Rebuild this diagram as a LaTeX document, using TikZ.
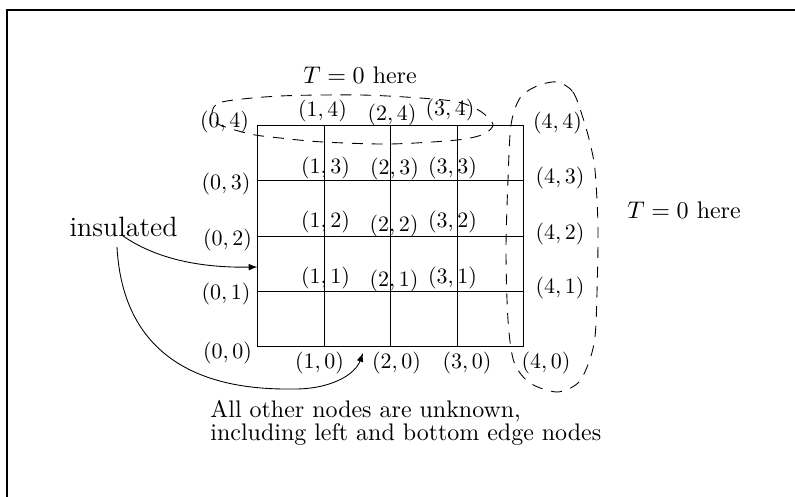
\documentclass[tikz,border=0pt]{standalone}
\begin{document}
\begin{tikzpicture}[x=0.455pt,y=-0.455pt,
  lbl/.style={inner sep=0pt},
  txt/.style={inner sep=0pt,font=\fontsize{10.9}{10.8}\selectfont},
  loop/.style={dash pattern=on 5pt off 4pt},
  arr/.style={-latex}]
\useasboundingbox (0,0) rectangle (795,497);
% frame
\coordinate (fbl) at (7,497);
\coordinate (ftl) at (7,10);
\coordinate (ftr) at (795,10);
\draw[line width=0.8pt] (fbl) -- (ftl) -- (ftr);
% grid points
\foreach \i in {0,...,4}{
  \foreach \j in {0,...,4}{
    \coordinate (p\i\j) at ({257.5+66.6*\i},{346.8-55.3*\j});
  }
}
\draw (p00) rectangle (p44);
\foreach \i in {1,2,3}{
  \draw (p\i0) -- (p\i4);
  \draw (p0\i) -- (p4\i);
}
% labels
\node[lbl] (l04) at (224.5,122.5) {$(0,4)$};
\node[lbl] (l03) at (226,184) {$(0,3)$};
\node[lbl] (l02) at (227.5,240) {$(0,2)$};
\node[lbl] (l01) at (226,294) {$(0,1)$};
\node[lbl] (l00) at (227.5,353) {$(0,0)$};
\node[lbl] (l14) at (322.5,111) {$(1,4)$};
\node[lbl] (l24) at (392,115) {$(2,4)$};
\node[lbl] (l34) at (450,110.5) {$(3,4)$};
\node[lbl] (l13) at (325.5,168) {$(1,3)$};
\node[lbl] (l23) at (394.5,169.5) {$(2,3)$};
\node[lbl] (l33) at (452.5,168) {$(3,3)$};
\node[lbl] (l12) at (325.5,222.5) {$(1,2)$};
\node[lbl] (l22) at (394,226) {$(2,2)$};
\node[lbl] (l32) at (452.5,222.5) {$(3,2)$};
\node[lbl] (l11) at (325.5,278) {$(1,1)$};
\node[lbl] (l21) at (394,281) {$(2,1)$};
\node[lbl] (l31) at (452.5,278) {$(3,1)$};
\node[lbl] (l10) at (319.5,363.5) {$(1,0)$};
\node[lbl] (l20) at (396.5,363) {$(2,0)$};
\node[lbl] (l30) at (467,363) {$(3,0)$};
\node[lbl] (l40) at (546,363) {$(4,0)$};
\node[lbl] (l44) at (557.5,123) {$(4,4)$};
\node[lbl] (l43) at (560,178) {$(4,3)$};
\node[lbl] (l42) at (560,234) {$(4,2)$};
\node[lbl] (l41) at (560,288) {$(4,1)$};
% texts
\node[txt] (ttop) at (360,75) {$T=0$ here};
\node[txt] (tright) at (684,210) {$T=0$ here};
\node[inner sep=0pt,font=\fontsize{12.7}{14}\selectfont] (ins) at (123.5,227) {insulated};
\node[txt,anchor=base west,align=left] (note) at (210,441)
  {All other nodes are unknown,\\including left and bottom edge nodes};
% dashed loops
\draw[loop] plot[smooth cycle] coordinates {(212,113) (222,102) (280,96) (360,95) (420,98) (458,102) (480,111) (493,124) (484,134) (457,140) (390,144) (323,142) (280,138) (250,134) (218,124)};
\draw[loop] plot[smooth cycle] coordinates {(557,82) (573,92) (583,118) (590,143) (595,170) (598,227) (597,293) (595,337) (589,362) (578,383) (557,392) (530,383) (514,362) (508,320) (506,250) (508,180) (511,125) (520,98) (537,86)};
% arrows
\coordinate (a1) at (123,236);
\coordinate (e1) at (257.5,267);
\coordinate (a2) at (117,247);
\coordinate (m2) at (290,389);
\coordinate (e2) at (363,353);
\draw[arr] (a1) .. controls (155,258) and (198,268) .. (e1);
\draw[arr] (a2) .. controls (122,340) and (180,390) .. (m2) .. controls (330,390) and (355,375) .. (e2);
\end{tikzpicture}
\end{document}
